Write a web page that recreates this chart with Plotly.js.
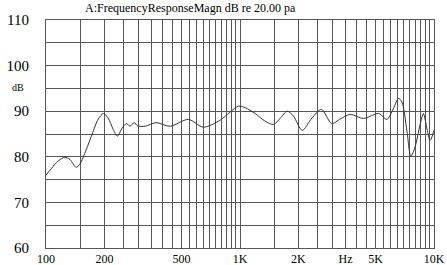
<!DOCTYPE html>
<html>
<head>
<meta charset="utf-8">
<script src="https://cdn.plot.ly/plotly-3.0.1.min.js"></script>
<style>html,body{margin:0;padding:0;background:#fff;}#chart{width:447px;height:265px;}</style>
</head>
<body>
<div id="chart"></div>
<script>
// Frequency (Hz)
const freqHz = [100,107,115,125,133,143,150,161,173,186,198,209,222,233,247,260,271,285,296,324,369,436,542,647,788,889,980,1061,1196,1348,1489,1615,1751,1883,2093,2348,2629,2967,3289,3699,4331,5173,5717,6160,6571,6838,7246,7598,7990,8474,8815,9214,9554,10000];
// Magnitude (dB)
const magDb = [76.0,77.5,79.0,79.9,79.4,77.7,78.5,81.5,85.0,88.3,89.5,88.5,86.0,84.5,86.3,87.3,86.7,87.5,86.8,86.7,87.5,86.7,88.2,86.5,88.0,89.8,91.1,90.8,89.5,87.8,87.1,88.5,90.0,89.0,85.8,88.5,90.4,87.3,88.3,89.3,88.4,89.5,88.2,90.5,92.8,92.0,85.8,80.1,82.2,87.0,89.5,86.0,83.6,85.8];

// X grid lines and labels
const xGrid = [100,150,200,250,300,350,400,450,500,550,600,650,700,750,800,850,900,950,1000,
  1500,2000,2500,3000,3500,4000,4500,5000,5500,6000,6500,7000,7500,8000,8500,9000,9500,10000];
const xLabelMap = {100:'100',200:'200',500:'500',1000:'1K',2000:'2K',3500:'Hz',5000:'5K',10000:'10K'};
const xText = xGrid.map(v => xLabelMap[v] || '');

// Y grid lines and labels
const yGrid = [60,65,70,75,80,85,90,95,100,105,110];
const yLabelMap = {60:'60',70:'70',80:'80',90:'90',100:'100',110:'110'};
const yText = yGrid.map(v => yLabelMap[v] || '');

const serif = 'Liberation Serif';

const trace = {
  x: freqHz, y: magDb, type: 'scatter', mode: 'lines',
  line: {color: '#333', width: 1, shape: 'spline', smoothing: 0.8},
  hoverinfo: 'skip'
};

const layout = {
  width: 447, height: 265,
  margin: {l: 46, r: 13, t: 20, b: 17},
  paper_bgcolor: '#fff', plot_bgcolor: '#fff',
  showlegend: false,
  font: {family: serif, color: '#000'},
  title: {
    text: 'A:FrequencyResponseMagn dB re 20.00 pa',
    font: {family: serif, size: 12, color: '#000'},
    x: 45/447, xanchor: 'left', xref: 'paper',
    y: 1 - 8/265, yanchor: 'middle', yref: 'container'
  },
  xaxis: {
    type: 'log', range: [2, 4],
    tickmode: 'array', tickvals: xGrid, ticktext: xText,
    showgrid: true, gridcolor: '#555', gridwidth: 1,
    ticks: '', ticklabelstandoff: 0,
    tickfont: {family: serif, size: 12, color: '#000'},
    showline: true, linecolor: '#555', linewidth: 1, mirror: true,
    zeroline: false, fixedrange: true
  },
  yaxis: {
    range: [60, 110],
    tickmode: 'array', tickvals: yGrid, ticktext: yText,
    showgrid: true, gridcolor: '#555', gridwidth: 1,
    ticks: '', ticklabelstandoff: 13,
    tickfont: {family: serif, size: 15, color: '#000'},
    showline: true, linecolor: '#555', linewidth: 1, mirror: true,
    zeroline: false, fixedrange: true
  },
  annotations: [{
    text: 'dB', xref: 'paper', yref: 'paper',
    x: -28/388, y: (248-87)/228, xanchor: 'center', yanchor: 'middle',
    showarrow: false, font: {family: serif, size: 10, color: '#000'}
  }]
};

Plotly.newPlot('chart', [trace], layout, {staticPlot: true, displayModeBar: false});
</script>
</body>
</html>
